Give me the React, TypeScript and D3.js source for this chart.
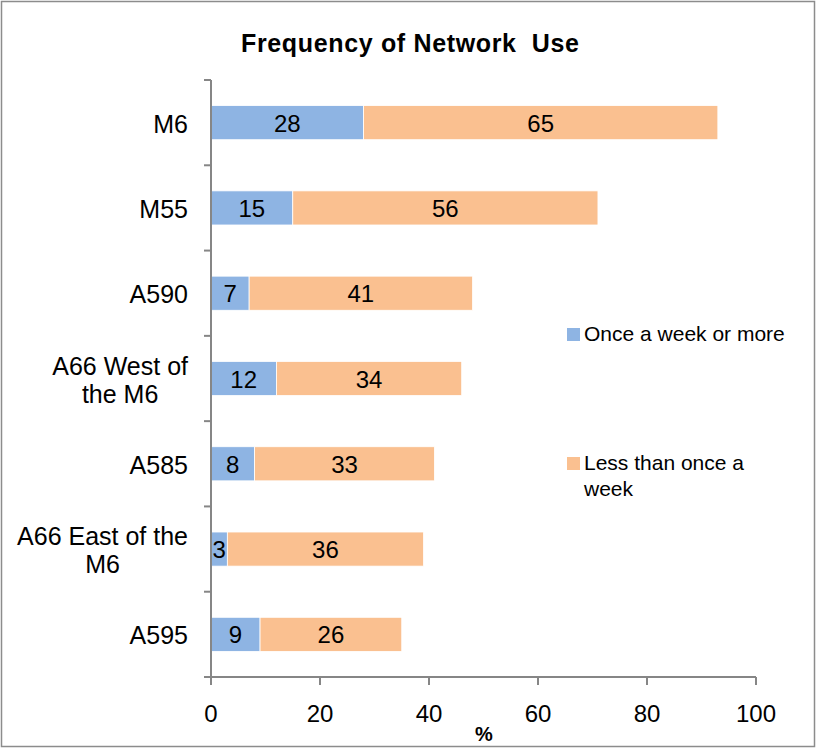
import { useEffect, useRef } from 'react'
import * as d3 from 'd3'

const categories = ['M6', 'M55', 'A590', 'A66 West of|the M6', 'A585', 'A66 East of the|M6', 'A595']
const onceWeekOrMore = [28, 15, 7, 12, 8, 3, 9]
const lessThanOnceWeek = [65, 56, 41, 34, 33, 36, 26]
const xTicks = [0, 20, 40, 60, 80, 100]
const seriesNames = ['Once a week or more', 'Less than once a|week']
const seriesColors = ['#8EB4E3', '#FAC090']

const W = 817
const H = 750
const FONT = '"Liberation Sans", Arial, sans-serif'

export default function App() {
  const svgRef = useRef<SVGSVGElement>(null)

  useEffect(() => {
    document.body.style.margin = '0'
    if (!svgRef.current) return
    const svg = d3.select(svgRef.current)
    svg.selectAll('*').remove()

    const left = 211, right = 756, top = 80, bottom = 677

    svg.append('rect').attr('x', 1.5).attr('y', 1.5).attr('width', W - 4).attr('height', H - 5)
      .attr('fill', '#fff').attr('stroke', '#8c8c8c').attr('stroke-width', 1.5)

    svg.append('text').attr('x', 410).attr('y', 52).attr('text-anchor', 'middle')
      .style('font-family', FONT).style('font-weight', 'bold').style('font-size', '25px')
      .style('white-space', 'pre').attr('textLength', 338)
      .text('Frequency of Network  Use')

    const x = d3.scaleLinear().domain([0, 100]).range([left, right])
    const y = d3.scaleBand().domain(categories).range([top, bottom]).paddingInner(0.6).paddingOuter(0.3)
    const band = (bottom - top) / categories.length

    // bars
    const g = svg.append('g')
    categories.forEach((c, i) => {
      const vals = [onceWeekOrMore[i], lessThanOnceWeek[i]]
      let acc = 0
      vals.forEach((v, s) => {
        const x0 = x(acc), x1 = x(acc + v)
        g.append('rect').attr('x', x0).attr('y', y(c)!).attr('width', x1 - x0).attr('height', y.bandwidth())
          .attr('fill', seriesColors[s]).attr('stroke', '#fff').attr('stroke-width', 0.8)
        g.append('text').attr('x', (x0 + x1) / 2).attr('y', y(c)! + y.bandwidth() / 2 + 9)
          .attr('text-anchor', 'middle').style('font-family', FONT).style('font-size', '24px')
          .text(v)
        acc += v
      })
    })

    // axes
    const axisColor = '#868686'
    svg.append('line').attr('x1', left).attr('x2', left).attr('y1', top).attr('y2', bottom)
      .attr('stroke', axisColor).attr('stroke-width', 2)
    svg.append('line').attr('x1', left - 7).attr('x2', right).attr('y1', bottom).attr('y2', bottom)
      .attr('stroke', axisColor).attr('stroke-width', 2)
    d3.range(categories.length + 1).forEach(k => {
      const yy = top + k * band
      svg.append('line').attr('x1', left - 7).attr('x2', left).attr('y1', yy).attr('y2', yy)
        .attr('stroke', axisColor).attr('stroke-width', 2)
    })
    xTicks.forEach(t => {
      svg.append('line').attr('x1', x(t)).attr('x2', x(t)).attr('y1', bottom).attr('y2', bottom + 8)
        .attr('stroke', axisColor).attr('stroke-width', 2)
      svg.append('text').attr('x', x(t)).attr('y', 722).attr('text-anchor', 'middle')
        .style('font-family', FONT).style('font-size', '24px').text(t)
    })
    svg.append('text').attr('x', 484).attr('y', 741).attr('text-anchor', 'middle')
      .style('font-family', FONT).style('font-weight', 'bold').style('font-size', '20px').text('%')

    // category labels
    categories.forEach(c => {
      const lines = c.split('|')
      const cy = y(c)! + y.bandwidth() / 2
      const lg = svg.append('g')
      const texts = lines.map((ln, j) => lg.append('text')
        .attr('y', cy + 10 + (j - (lines.length - 1) / 2) * 28)
        .style('font-family', FONT).style('font-size', '25px').attr('text-anchor', 'middle').text(ln))
      const widths = texts.map(t => (t.node() as SVGTextElement).getComputedTextLength())
      const maxW = d3.max(widths) || 0
      const cx = 188 - maxW / 2
      texts.forEach(t => t.attr('x', cx))
    })

    // legend
    const legY = [341, 470]
    seriesNames.forEach((n, s) => {
      svg.append('rect').attr('x', 567).attr('y', legY[s] - 13).attr('width', 13).attr('height', 13)
        .attr('fill', seriesColors[s])
      n.split('|').forEach((ln, j) => {
        svg.append('text').attr('x', 584).attr('y', legY[s] + j * 26)
          .style('font-family', FONT).style('font-size', '21px').text(ln)
      })
    })
  }, [])

  return <svg ref={svgRef} width={W} height={H} style={{ display: 'block' }} />
}
